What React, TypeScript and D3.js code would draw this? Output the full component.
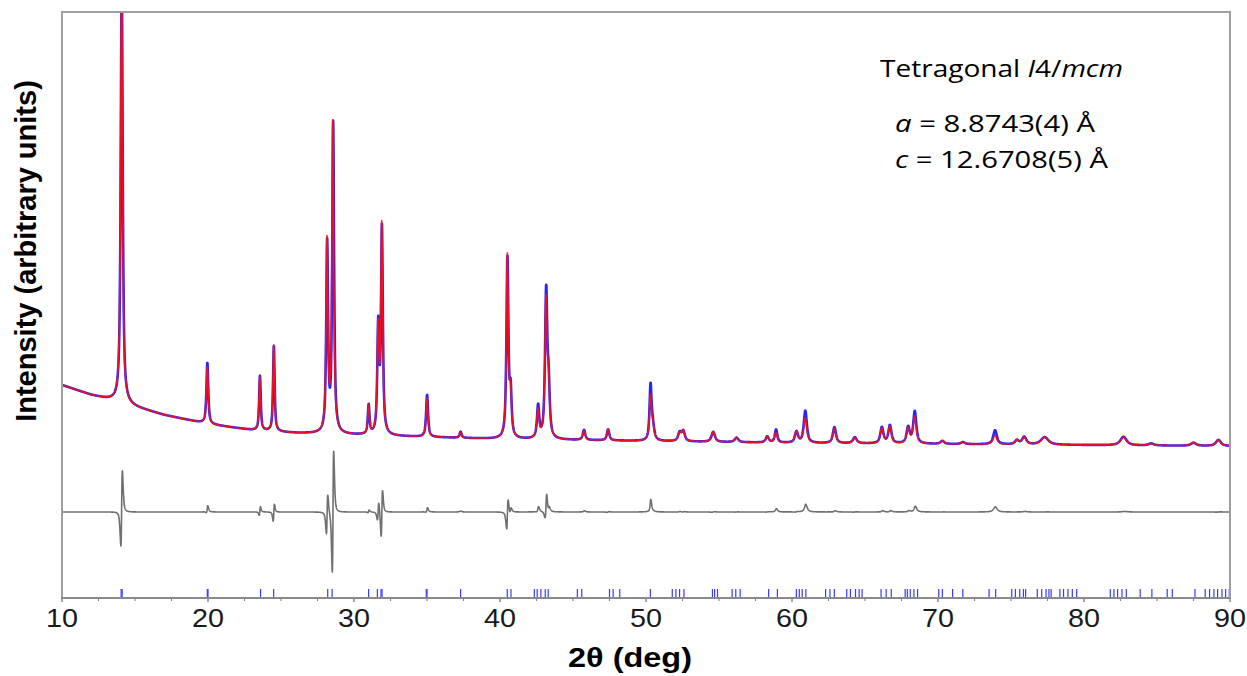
import React from 'react';
import * as d3 from 'd3';

// ---------- data ----------
const xTicks = [10, 20, 30, 40, 50, 60, 70, 80, 90];
const xMinorTicks = [12.5, 15, 17.5, 22.5, 25, 27.5, 32.5, 35, 37.5, 42.5, 45, 47.5, 52.5, 55, 57.5, 62.5, 65, 67.5, 72.5, 75, 77.5, 82.5, 85, 87.5];

// background (2θ in deg, intensity in arbitrary units)
const bgDeg = [10, 12, 13.5, 15, 17, 20, 23, 26, 30, 35, 40, 50, 60, 70, 80, 90];
const bgVal = [2130, 2030, 1975, 1910, 1830, 1740, 1680, 1650, 1630, 1610, 1590, 1570, 1550, 1540, 1530, 1520];

// reflections of the calculated / observed profile
const peakPos = [14.08, 19.95, 23.55, 24.5, 28.15, 28.55, 31.0, 31.65, 31.9, 35.0, 37.3, 40.5, 40.72, 42.6, 43.15, 43.32, 45.75, 47.4, 50.3, 50.45, 52.3, 52.55, 54.6, 56.2, 58.3, 58.9, 60.3, 60.9, 62.9, 64.3, 66.15, 66.7, 67.95, 68.4, 70.3, 71.7, 73.9, 75.4, 75.9, 77.3, 82.7, 84.6, 87.5, 89.2];
const peakCalcH = [4210, 570, 530, 860, 1900, 3090, 280, 1030, 2080, 390, 50, 1820, 420, 280, 1350, 480, 90, 110, 410, 150, 80, 100, 100, 45, 60, 100, 110, 250, 150, 60, 150, 170, 150, 270, 30, 20, 90, 40, 70, 75, 80, 20, 30, 60];
const peakObsH = [4260, 610, 545, 850, 1880, 3090, 290, 1060, 2050, 420, 60, 1790, 430, 320, 1450, 470, 100, 110, 520, 150, 85, 100, 100, 45, 60, 130, 110, 320, 160, 60, 160, 180, 160, 320, 30, 20, 140, 40, 75, 75, 85, 20, 30, 60];
const peakObsShift = [0.011, 0.006, 0.008, 0.01, 0.012, 0.023, 0.005, 0.01, 0.013, 0.006, 0, 0.01, 0.008, 0.01, 0.012, 0.01, 0.005, 0.005, 0.01, 0.005, 0.005, 0.005, 0.005, 0.005, 0.005, 0.01, 0.005, 0.012, 0.006, 0.005, 0.006, 0.006, 0.006, 0.01, 0.005, 0.005, 0.01, 0.005, 0.005, 0.005, 0.006, 0.005, 0.005, 0.006];
const peakFwhm = [0.16, 0.15, 0.13, 0.13, 0.15, 0.15, 0.14, 0.15, 0.15, 0.16, 0.16, 0.16, 0.16, 0.18, 0.18, 0.18, 0.2, 0.2, 0.16, 0.25, 0.25, 0.25, 0.28, 0.3, 0.25, 0.2, 0.25, 0.25, 0.25, 0.3, 0.25, 0.25, 0.25, 0.25, 0.3, 0.3, 0.3, 0.3, 0.35, 0.6, 0.5, 0.4, 0.4, 0.4];

// Bragg reflection markers (deg)
const braggPos = [14.05, 14.12, 19.95, 20.0, 23.6, 24.5, 28.2, 28.5, 31.0, 31.6, 31.85, 31.92,
  34.95, 35.0, 37.3, 40.5, 40.75, 42.35, 42.55, 42.8, 43.1, 43.3, 45.3, 45.6, 47.5, 47.75, 48.2, 50.3,
  51.8, 52.05, 52.3, 52.6, 54.55, 54.7, 54.9, 55.9, 56.15, 56.45, 58.4, 59.0, 60.3, 60.5, 60.7, 60.95,
  62.3, 62.6, 62.9, 63.75, 64.0, 64.35, 64.6, 64.8, 66.1, 66.45, 66.8, 67.75, 67.9, 68.1, 68.35, 68.6,
  70.05, 70.3, 71.0, 71.7, 73.5, 73.95, 75.05, 75.3, 75.6, 75.85, 76.0, 76.8, 77.1, 77.4, 77.6, 77.75,
  78.35, 78.6, 78.9, 79.2, 79.5, 81.8, 82.05, 82.3, 82.6, 82.9, 83.85, 84.65, 85.7, 86.05, 87.6,
  88.3, 88.6, 88.9, 89.15, 89.45, 89.7, 89.95];

const diffOffset = 860;
const etaLorentz = 0.8;

const W = 1247, H = 676;
const plot = { left: 62, right: 1230, top: 12, bottom: 598 };

function profile(dx: number, w: number) {
  const u = (2 * dx) / w;
  return etaLorentz / (1 + u * u) + (1 - etaLorentz) * Math.exp(-Math.LN2 * u * u);
}

export default function App() {
  const x = d3.scaleLinear().domain([10, 90]).range([plot.left, plot.right]);
  const y = d3.scaleLinear().domain([0, 5860]).range([plot.bottom, plot.top]);
  const bg = d3.scaleLinear().domain(bgDeg).range(bgVal);

  const grid = d3.range(10, 90.0001, 0.01);
  const calc: [number, number][] = [];
  const obs: [number, number][] = [];
  const diff: [number, number][] = [];
  for (const t of grid) {
    let c = bg(t);
    let o = bg(t);
    for (let i = 0; i < peakPos.length; i++) {
      const d = t - peakPos[i];
      if (Math.abs(d) > 6) continue;
      c += peakCalcH[i] * profile(d, peakFwhm[i]);
      o += peakObsH[i] * profile(d - peakObsShift[i], peakFwhm[i]);
    }
    calc.push([t, c]);
    obs.push([t, o]);
    diff.push([t, o - c + diffOffset]);
  }
  const line = d3.line<[number, number]>().x(d => x(d[0])).y(d => y(d[1]));

  const font = "'Liberation Sans', Arial, sans-serif";
  const annFont = "'Open Sans', 'Liberation Sans', sans-serif";

  return (
    <svg width={W} height={H} style={{ position: 'absolute', left: 0, top: 0, background: '#fff' }}>
      <defs>
        <clipPath id="plotClip">
          <rect x={plot.left} y={plot.top} width={plot.right - plot.left} height={plot.bottom - plot.top} />
        </clipPath>
      </defs>
      <rect x={0} y={0} width={W} height={H} fill="#fff" />
      <g clipPath="url(#plotClip)">
        <path d={line(obs) || ''} fill="none" stroke="#2424ff" strokeWidth={2.6} strokeLinejoin="round" />
        <path d={line(calc) || ''} fill="none" stroke="#ff1010" strokeWidth={1.6} strokeOpacity={0.9} strokeLinejoin="round" />
        <path d={line(diff) || ''} fill="none" stroke="#707070" strokeWidth={1.6} strokeLinejoin="round" />
        {braggPos.map((p, i) => (
          <line key={i} x1={x(p)} x2={x(p)} y1={y(10)} y2={y(90)} stroke="#3a3aff" strokeWidth={1.2} />
        ))}
      </g>
      {/* frame */}
      <path d={`M${plot.left},${plot.bottom} V${plot.top} H${plot.right} V${plot.bottom}`} fill="none" stroke="#a0a0a0" strokeWidth={2} />
      <line x1={plot.left - 1} x2={plot.right + 1} y1={plot.bottom} y2={plot.bottom} stroke="#8a8a8a" strokeWidth={2} />
      {xTicks.map(t => (
        <line key={'M' + t} x1={x(t)} x2={x(t)} y1={plot.bottom} y2={plot.bottom + 4} stroke="#8a8a8a" strokeWidth={1.5} />
      ))}
      {xMinorTicks.map(t => (
        <line key={'m' + t} x1={x(t)} x2={x(t)} y1={plot.bottom} y2={plot.bottom + 3} stroke="#8a8a8a" strokeWidth={1.2} />
      ))}
      {xTicks.map(t => (
        <text key={'l' + t} x={x(t)} y={627} textAnchor="middle" fontFamily={font} fontSize={25} fill="#1a1a1a"
          textLength={32} lengthAdjust="spacingAndGlyphs">{t}</text>
      ))}
      <text x={630} y={667} textAnchor="middle" fontFamily={font} fontSize={27} fontWeight="bold" fill="#000"
        textLength={124} lengthAdjust="spacingAndGlyphs">2θ (deg)</text>
      <text transform="translate(36,251) rotate(-90)" textAnchor="middle" fontFamily={font} fontSize={29} fontWeight="bold" fill="#000">
        Intensity (arbitrary units)
      </text>
      {/* annotation */}
      <text x={880} y={77} fontFamily={annFont} fontSize={23} fill="#000" textLength={243} lengthAdjust="spacingAndGlyphs">
        Tetragonal <tspan fontStyle="italic">I</tspan>4/<tspan fontStyle="italic">mcm</tspan>
      </text>
      <text x={895} y={132} fontFamily={annFont} fontSize={23} fill="#000" textLength={200} lengthAdjust="spacingAndGlyphs">
        <tspan fontStyle="italic">a</tspan> = 8.8743(4) Å
      </text>
      <text x={895} y={168} fontFamily={annFont} fontSize={23} fill="#000" textLength={213} lengthAdjust="spacingAndGlyphs">
        <tspan fontStyle="italic">c</tspan> = 12.6708(5) Å
      </text>
    </svg>
  );
}
